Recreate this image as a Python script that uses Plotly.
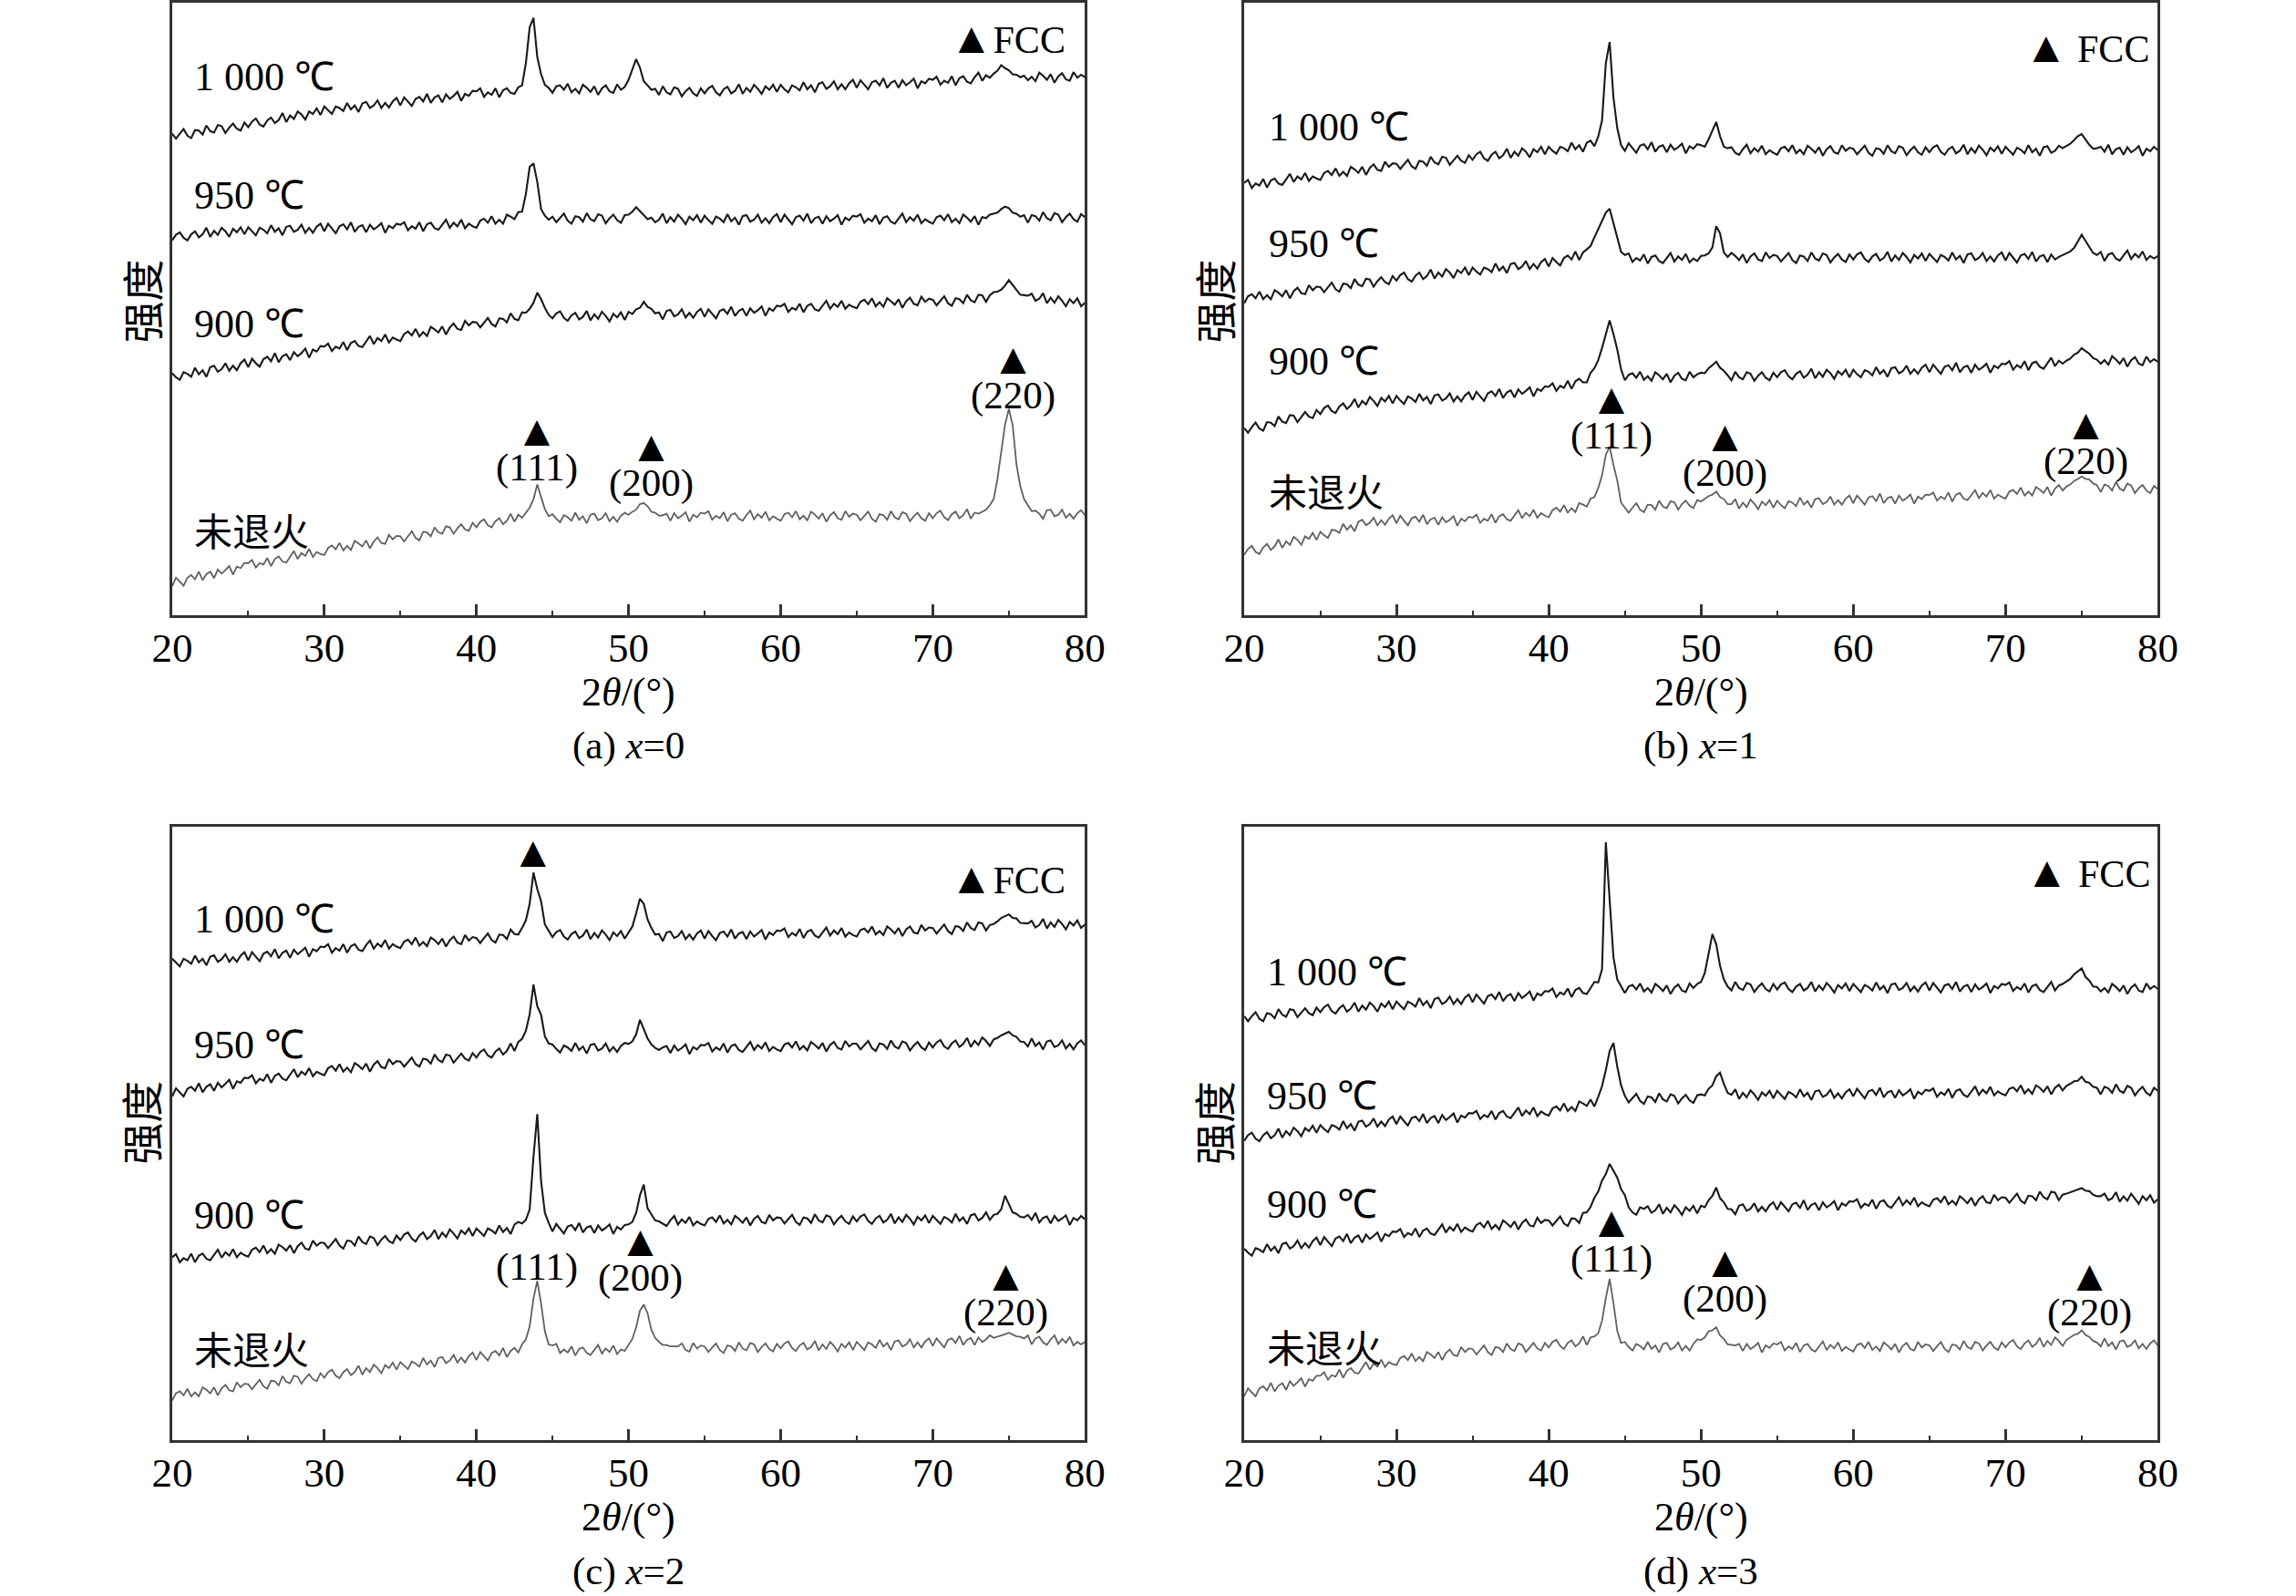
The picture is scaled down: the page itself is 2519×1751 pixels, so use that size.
import plotly.graph_objects as go

# ---------------- data ----------------
two_theta = [20 + 0.25 * i for i in range(241)]          # 2θ sampling grid (°)
tick_values = [20, 30, 40, 50, 60, 70, 80]
curve_names = ["1 000 ℃", "950 ℃", "900 ℃", "未退火"]
panel_captions = ["(a) <i>x</i>=0", "(b) <i>x</i>=1", "(c) <i>x</i>=2", "(d) <i>x</i>=3"]
hkl_labels = ["(111)", "(200)", "(220)"]

# intensities (a.u., curves vertically offset as drawn)
a_1000 = [956,946,956,965,952,947,963,962,954,972,961,958,973,971,957,968,976,966,962,978,
          969,980,986,974,970,982,988,977,983,997,979,992,985,1000,994,984,1000,995,1006,993,
          1010,1002,995,1010,1007,1001,1017,1004,1012,999,1016,1019,1007,1012,1022,1007,1017,1008,1020,1027,
          1012,1028,1019,1011,1025,1029,1020,1035,1017,1028,1032,1018,1034,1025,1031,1039,1021,1035,1031,1041,
          1040,1046,1029,1038,1033,1046,1028,1042,1046,1037,1035,1048,1052,1096,1167,1186,1108,1074,1053,1047,
          1037,1050,1052,1043,1055,1038,1045,1036,1053,1047,1039,1050,1033,1046,1052,1040,1037,1054,1043,1049,
          1063,1084,1104,1087,1060,1052,1043,1045,1033,1050,1038,1034,1048,1045,1030,1040,1047,1036,1031,1046,
          1036,1046,1051,1038,1032,1044,1049,1036,1041,1054,1035,1047,1039,1053,1045,1035,1050,1043,1053,1039,
          1053,1044,1038,1052,1048,1042,1058,1044,1052,1038,1055,1058,1045,1050,1060,1044,1054,1044,1056,1063,
          1047,1062,1053,1044,1058,1061,1052,1066,1047,1057,1061,1047,1062,1052,1058,1065,1046,1060,1056,1065,
          1063,1069,1053,1061,1057,1070,1052,1066,1070,1059,1056,1068,1077,1061,1072,1067,1075,1081,1092,1086,
          1082,1074,1073,1068,1071,1062,1069,1060,1077,1071,1063,1074,1057,1070,1076,1064,1061,1078,1067,1073,
          1068]
a_950 = [744,755,760,749,744,756,762,750,756,769,751,763,755,769,762,751,767,760,770,756,
         770,761,754,769,765,758,774,761,768,754,771,773,761,765,775,759,769,759,771,777,
         762,777,767,758,772,776,766,780,761,771,774,760,775,766,771,778,759,773,768,777,
         775,780,764,772,767,780,762,776,779,768,765,776,785,769,779,772,785,768,777,772,
         769,783,787,779,792,777,785,777,795,791,786,800,801,836,890,897,860,806,793,785,
         791,780,789,797,783,777,792,790,781,798,786,782,796,793,778,788,795,784,779,794,
         795,801,810,801,794,786,789,780,785,797,778,790,781,795,787,776,791,784,794,779,
         793,784,777,791,787,780,796,782,789,775,792,794,781,785,795,779,788,778,790,796,
         780,795,785,776,790,793,783,797,778,788,791,777,792,782,787,794,775,789,784,793,
         791,796,779,787,782,794,776,789,792,781,777,788,797,780,790,783,795,778,786,781,
         777,790,793,784,796,780,787,778,795,789,781,792,775,790,788,795,797,799,806,811,
         808,799,797,791,794,779,794,792,783,800,788,784,798,795,780,790,797,786,781,796,
         790]
a_900 = [480,472,467,482,479,473,491,478,486,473,492,495,483,488,500,485,495,486,500,507,
         492,509,500,493,508,513,504,520,502,514,518,506,522,514,520,529,511,527,523,534,
         533,539,524,533,529,542,526,540,544,534,532,544,554,538,550,544,557,541,551,547,
         544,558,563,555,568,553,562,554,572,567,561,573,557,571,579,568,566,584,575,582,
         581,571,581,590,578,573,589,588,581,599,588,585,601,600,608,620,640,627,610,596,
         589,599,603,590,584,595,600,587,592,604,585,597,588,602,594,583,598,591,601,586,
         602,598,607,610,622,612,608,599,601,587,604,606,593,597,607,591,600,590,602,608,
         592,607,598,589,604,607,598,612,594,604,608,594,609,600,605,613,594,609,604,614,
         613,618,602,610,606,618,601,614,618,607,604,615,624,608,618,612,624,608,616,612,
         609,622,626,617,629,613,621,612,629,623,616,627,610,623,630,618,615,632,622,628,
         626,615,625,633,619,614,629,627,619,636,625,621,636,635,622,635,641,642,646,654,
         665,656,645,636,635,634,638,624,628,639,619,630,620,633,624,613,627,619,629,613,
         620]
a_raw = [57,74,66,58,74,79,71,86,69,81,86,73,90,82,89,97,80,96,93,103,
         103,109,94,103,100,113,97,111,116,106,104,116,127,111,123,117,131,115,125,121,
         119,133,138,130,143,128,137,129,147,142,136,148,132,146,154,143,141,159,150,157,
         156,146,157,166,153,148,165,164,156,174,164,161,176,174,161,172,180,170,167,183,
         174,185,190,178,174,186,192,180,187,201,185,199,193,204,213,230,259,234,210,196,
         200,191,184,198,194,187,203,189,196,182,199,201,188,192,202,186,195,185,197,203,
         199,205,209,220,222,216,205,203,197,198,201,187,202,192,197,204,185,199,194,203,
         201,206,189,197,192,204,186,199,202,191,187,198,207,190,200,193,205,188,196,191,
         187,200,203,194,206,190,197,188,205,199,191,202,185,198,204,192,189,206,195,201,
         199,188,197,205,191,185,200,198,189,206,194,190,204,201,186,196,203,192,187,202,
         192,202,207,194,188,200,205,192,198,210,191,203,201,205,209,218,230,270,320,378,
         409,377,299,256,230,217,206,207,201,191,208,209,196,199,209,193,201,191,202,208,
         198]

b_1000 = [858,864,848,857,853,866,849,863,867,857,854,866,876,860,871,865,878,862,871,867,
          864,878,882,874,887,872,880,872,890,885,878,890,874,888,895,884,882,900,890,897,
          896,886,896,904,891,886,902,900,892,910,899,895,910,908,894,904,912,902,898,913,
          904,915,920,907,902,914,920,907,913,926,908,920,912,927,920,909,925,919,930,915,
          930,922,916,930,927,921,938,925,933,920,938,942,931,950,982,1096,1138,1028,967,933,
          922,937,927,918,932,935,925,939,920,930,933,919,934,924,929,936,917,931,926,935,
          933,930,945,961,979,951,930,927,929,918,914,925,934,917,927,920,932,915,923,918,
          914,927,930,921,933,917,924,915,932,926,918,929,912,925,931,919,916,933,922,928,
          926,915,924,932,918,912,927,925,916,933,921,917,931,928,913,923,930,919,914,929,
          919,929,933,920,914,925,930,917,922,934,915,927,918,932,924,913,928,921,931,916,
          930,921,914,928,924,917,933,919,926,912,929,931,918,922,932,927,931,936,943,951,
          955,944,934,926,927,930,920,934,915,925,928,914,929,919,924,931,912,926,921,930,
          923]
b_950 = [619,633,637,629,642,627,635,627,645,640,633,645,629,643,650,639,637,655,645,652,
         651,641,651,660,647,642,658,657,649,667,656,653,668,666,652,663,671,661,657,673,
         664,675,680,667,662,674,680,667,673,686,668,680,672,687,680,669,685,679,690,675,
         690,682,676,690,687,681,698,684,692,679,697,699,687,692,703,687,697,688,701,707,
         692,709,701,694,709,714,706,722,705,720,726,733,750,766,785,799,807,777,750,721,
         715,718,701,709,704,716,698,711,714,703,699,710,719,702,712,705,717,700,708,703,
         713,714,718,730,772,758,720,711,719,713,705,716,699,712,718,706,703,720,709,715,
         713,702,711,719,705,699,714,712,703,720,708,704,718,715,700,710,717,706,701,716,
         706,716,720,707,701,712,717,704,709,721,702,714,705,719,711,700,715,708,718,703,
         717,708,701,715,711,704,720,706,713,699,716,718,705,709,719,703,712,702,714,720,
         704,719,709,700,714,717,707,721,702,712,715,701,716,706,711,715,718,722,729,743,
         755,743,730,719,715,721,703,716,719,708,704,715,724,707,717,710,722,705,713,708,
         713]
b_900 = [371,362,373,382,370,366,383,382,375,394,384,381,397,396,383,394,403,394,391,407,
         399,411,416,405,401,414,420,409,416,429,412,425,418,433,425,415,431,424,435,420,
         435,426,419,434,430,423,439,426,433,419,436,438,426,430,440,424,434,424,436,442,
         427,443,434,425,440,444,435,449,431,442,446,432,448,439,445,452,434,449,445,454,
         453,460,445,455,451,465,449,464,469,462,462,481,490,506,530,559,585,558,527,488,
         466,477,480,471,483,467,474,465,482,476,468,479,462,475,481,469,466,483,472,478,
         481,480,490,496,503,491,485,476,466,483,472,468,482,479,465,475,482,471,466,481,
         472,482,486,474,468,479,484,471,477,489,470,482,473,487,480,469,484,477,487,472,
         487,478,472,486,483,476,492,479,486,473,490,492,480,484,495,479,488,479,491,497,
         482,497,487,479,493,496,486,501,482,492,495,481,497,487,492,499,481,495,490,499,
         498,504,487,496,491,504,486,500,503,493,489,501,511,494,505,499,505,509,517,521,
         530,524,519,510,507,499,506,497,514,507,499,510,493,506,512,499,496,513,502,508,
         503]
b_raw = [119,131,137,125,121,134,141,129,136,150,133,146,139,155,149,139,156,151,163,149,
         165,158,153,169,168,163,181,169,178,166,185,189,178,183,193,178,188,179,191,198,
         182,197,187,178,192,195,185,199,180,190,193,179,194,184,189,196,177,191,186,195,
         193,199,183,191,187,200,183,196,200,190,187,198,208,192,203,196,209,193,202,197,
         194,208,213,205,218,203,212,204,222,219,215,231,234,252,277,318,334,298,267,223,
         213,203,213,222,209,204,219,218,209,227,215,212,226,224,209,220,227,217,212,228,
         225,230,236,239,245,234,230,220,220,230,211,223,214,229,221,210,225,218,228,213,
         227,218,212,226,223,216,233,219,226,213,230,232,220,224,235,219,228,219,231,237,
         222,237,227,219,233,236,226,241,222,232,235,221,237,227,232,239,221,235,230,239,
         238,243,227,235,230,243,225,239,242,231,228,239,248,232,242,235,248,231,239,234,
         231,245,248,240,253,237,245,237,254,249,242,254,237,251,258,247,255,259,266,270,
         275,270,269,261,258,244,259,256,247,264,251,247,261,257,242,252,258,247,242,256,
         250]

c_1000 = [955,947,940,955,951,945,961,948,955,942,959,962,949,954,964,949,958,949,961,968,
          952,968,959,950,965,969,960,974,956,967,971,957,973,964,970,977,959,974,970,979,
          978,984,967,976,971,984,967,980,984,973,970,982,991,975,985,979,992,975,984,979,
          976,989,993,984,997,981,988,980,997,992,984,995,979,992,999,987,984,1002,991,998,
          996,986,996,1005,992,987,1003,1002,994,1013,1004,1003,1016,1031,1064,1126,1093,1069,1023,1010,
          998,1008,1012,999,993,1004,1009,996,1001,1013,994,1006,997,1011,1003,992,1007,1000,1010,995,
          1008,1019,1045,1074,1064,1033,1016,1003,1004,990,1007,1009,996,1000,1010,994,1003,993,1005,1011,
          995,1010,1000,992,1006,1009,999,1013,995,1005,1008,994,1009,999,1005,1012,993,1007,1002,1011,
          1010,1015,998,1006,1001,1014,996,1009,1012,1001,997,1008,1017,1001,1011,1004,1016,999,1007,1002,
          999,1012,1015,1007,1019,1003,1010,1002,1019,1013,1005,1016,1000,1013,1019,1007,1005,1022,1011,1017,
          1016,1005,1015,1023,1010,1004,1020,1018,1010,1027,1016,1012,1027,1025,1011,1022,1024,1029,1036,1040,
          1043,1036,1035,1026,1025,1025,1030,1017,1022,1034,1015,1027,1018,1032,1024,1013,1028,1021,1031,1016,
          1023]
c_950 = [682,698,690,682,697,701,693,708,690,701,706,693,709,700,707,715,697,712,709,719,
         718,724,708,717,713,726,709,723,727,717,714,726,736,720,731,725,738,722,731,727,
         724,738,742,733,746,731,739,730,748,743,736,747,731,745,752,740,738,756,746,752,
         751,741,751,759,746,741,757,755,747,765,754,750,765,763,749,759,767,757,753,768,
         759,770,775,763,759,771,777,765,772,787,772,790,796,812,845,904,861,844,801,787,
         785,776,769,783,779,772,788,774,781,767,784,786,773,777,787,771,780,770,782,788,
         786,791,805,834,816,797,785,778,774,779,782,768,783,773,778,785,766,780,775,784,
         783,788,771,779,774,787,769,782,785,774,770,781,790,774,784,777,789,772,780,775,
         772,785,788,779,791,775,782,773,790,784,777,788,771,784,790,778,775,792,781,787,
         786,775,784,792,778,772,787,785,776,793,781,777,791,788,773,783,790,779,774,789,
         779,789,794,781,776,787,793,780,786,798,780,792,784,799,792,782,795,798,803,806,
         810,803,800,791,790,781,797,782,789,775,791,793,780,783,793,777,786,775,787,793,
         783]
c_900 = [363,369,353,361,357,370,353,366,370,360,357,368,378,362,373,366,379,363,372,367,
         364,378,382,373,386,371,379,370,388,383,376,387,371,385,392,380,378,396,386,392,
         391,381,390,399,386,380,396,395,386,404,393,389,404,401,387,398,405,395,391,406,
         397,408,412,400,394,406,412,399,405,417,399,412,403,418,410,400,416,409,420,405,
         420,412,405,420,416,410,426,413,421,409,428,433,430,437,458,562,647,514,451,431,
         414,429,419,410,424,427,417,431,412,422,425,411,426,416,421,428,409,423,418,427,
         428,433,451,486,507,460,448,436,434,429,425,436,445,428,438,431,443,426,434,429,
         426,439,442,433,446,430,437,428,445,439,431,442,426,439,445,433,430,447,436,442,
         441,430,439,447,433,427,442,440,431,448,436,432,446,443,428,438,445,434,429,444,
         434,444,448,435,429,440,445,432,437,449,430,442,433,447,439,428,443,436,446,431,
         445,436,429,443,439,432,449,435,442,429,446,449,436,441,452,437,447,449,458,485,
         467,452,449,443,442,447,437,451,432,441,444,430,445,435,440,446,427,441,436,445,
         438]
c_raw = [79,93,97,89,102,87,95,87,105,100,93,105,89,103,110,99,97,115,105,112,
         111,101,111,120,107,102,118,117,109,127,116,113,128,126,112,123,131,121,117,133,
         124,135,140,128,123,135,141,129,135,148,130,143,135,150,143,133,149,143,154,140,
         155,147,141,156,152,146,163,150,158,145,163,165,153,158,169,154,164,154,167,174,
         159,175,166,158,173,177,168,183,165,177,183,174,190,200,226,281,316,271,216,190,
         188,191,173,180,174,186,168,181,184,173,169,180,189,172,182,175,188,171,180,177,
         190,201,224,257,269,252,219,203,195,189,189,186,186,186,192,179,176,193,182,188,
         186,175,184,192,179,173,188,186,177,194,182,178,193,190,175,185,192,181,176,191,
         182,192,196,183,177,188,193,180,185,197,178,190,181,195,187,176,191,184,194,179,
         195,186,179,194,190,183,199,186,193,179,196,198,186,190,200,184,194,184,196,202,
         187,202,193,184,199,202,193,207,189,199,203,189,204,195,200,208,203,205,208,210,
         213,209,206,205,202,208,190,202,205,194,189,200,208,191,201,193,205,188,195,190,
         195]

d_1000 = [841,831,841,849,836,831,847,845,837,855,844,840,855,853,839,849,857,847,843,858,
          849,859,864,851,846,857,863,850,856,868,850,862,854,868,861,850,866,859,870,855,
          870,862,855,870,866,860,877,863,871,857,875,878,865,870,880,865,875,865,878,884,
          869,884,875,866,881,884,875,889,871,881,885,871,887,877,883,890,872,886,882,891,
          890,896,879,888,884,896,879,893,897,887,885,898,909,908,934,1186,1062,958,914,900,
          887,900,903,894,906,890,897,888,905,899,891,902,885,898,904,892,889,906,897,905,
          909,927,969,1004,984,941,914,900,892,909,897,893,907,904,889,899,906,895,890,905,
          894,904,908,895,889,900,905,892,897,909,890,902,893,907,899,888,903,896,906,891,
          905,896,889,903,899,892,908,894,901,887,904,906,893,897,907,891,900,890,902,908,
          892,907,897,888,902,905,895,909,890,900,903,889,904,894,899,906,887,901,896,905,
          903,908,891,899,894,906,888,901,904,893,889,900,909,892,902,905,910,915,924,930,
          936,919,912,900,899,890,897,888,905,899,891,902,885,898,904,892,889,906,895,901,
          895]
d_950 = [594,605,610,598,593,605,611,599,605,618,600,613,605,620,613,603,619,613,624,610,
         625,617,611,625,622,616,633,619,627,614,632,634,622,627,638,622,632,623,636,642,
         627,642,633,624,639,642,633,647,629,639,643,629,645,635,641,648,630,644,640,649,
         648,653,637,645,641,653,636,649,653,642,639,650,660,643,654,647,660,643,652,647,
         644,658,662,654,668,653,661,653,672,668,663,676,662,681,702,734,772,788,741,704,
         683,670,679,687,673,667,682,680,671,688,676,672,686,683,668,678,685,674,669,684,
         686,684,697,704,722,729,707,689,685,696,677,689,680,694,686,675,690,683,693,678,
         693,684,677,691,687,680,696,682,689,675,692,694,681,685,695,679,688,678,690,696,
         682,697,687,678,692,695,685,699,680,690,693,679,694,684,689,696,677,691,686,695,
         693,698,681,690,685,697,679,693,696,685,681,692,702,685,695,688,701,684,692,687,
         684,697,700,692,704,688,696,687,704,699,691,702,686,699,705,694,703,707,712,713,
         721,711,709,701,699,686,701,698,689,706,693,689,703,699,684,694,701,689,684,699,
         693]
d_900 = [380,372,366,381,378,373,389,376,384,371,389,392,380,385,396,381,391,382,395,402,
         387,403,394,385,400,404,395,409,391,402,406,392,408,399,405,412,394,409,405,414,
         413,419,403,411,407,420,403,416,420,410,407,418,428,412,423,416,429,413,422,417,
         414,427,431,422,435,419,427,418,436,430,423,434,418,431,438,426,424,441,431,437,
         436,426,435,444,430,425,440,439,431,451,452,463,481,493,515,528,548,533,521,498,
         486,462,452,447,462,459,464,451,456,468,449,461,452,466,458,447,462,455,465,450,
         465,462,476,485,501,480,472,459,458,448,465,468,455,459,470,454,463,454,466,472,
         457,472,462,454,468,471,461,476,457,467,470,456,472,462,467,474,456,470,465,474,
         473,478,461,469,465,477,459,473,476,465,461,472,482,466,476,468,481,464,472,467,
         464,477,480,472,484,468,475,467,484,478,470,481,465,478,484,472,470,487,476,482,
         481,471,480,489,475,470,485,484,476,493,482,478,493,491,476,487,489,492,495,497,
         500,495,494,487,484,484,489,476,480,492,473,484,475,489,480,469,484,476,486,471,
         478]
d_raw = [87,103,95,87,103,107,99,114,97,108,113,100,117,108,115,123,106,121,118,128,
         128,135,120,129,126,140,124,138,143,134,132,144,155,140,152,146,160,145,155,151,
         149,163,167,159,172,157,165,157,175,170,163,175,159,173,180,169,167,185,175,182,
         181,170,180,188,175,169,185,183,175,192,181,177,192,189,175,185,193,182,178,193,
         184,195,199,187,181,193,198,186,192,206,189,204,206,212,237,282,320,272,217,193,
         195,185,178,191,187,180,195,181,188,174,191,193,180,184,194,178,187,178,191,200,
         199,204,216,218,224,208,201,190,189,188,191,177,191,181,186,193,174,188,183,192,
         190,195,178,186,181,193,175,188,191,180,176,187,196,179,189,182,194,177,185,180,
         176,189,192,183,195,179,186,177,194,188,180,191,174,187,193,181,178,195,184,190,
         188,177,186,195,181,175,190,188,180,197,185,181,195,192,178,188,195,184,179,194,
         184,194,199,186,181,192,198,185,191,203,185,197,189,204,197,187,199,204,209,211,
         218,209,205,197,194,186,202,187,194,180,196,198,185,189,198,182,191,181,192,198,
         188]

panel_series = [
    [a_1000, a_950, a_900, a_raw],
    [b_1000, b_950, b_900, b_raw],
    [c_1000, c_950, c_900, c_raw],
    [d_1000, d_950, d_900, d_raw],
]

bad = []
for p, group in enumerate(panel_series):
    for s, ser in enumerate(group):
        if len(ser) != len(two_theta):
            bad.append((p, s, len(ser)))
if bad:
    raise ValueError("length mismatch: %r" % bad)

# ---------------- layout ----------------
W, H = 2519, 1751
SERIF = "Liberation Serif, Times New Roman, serif"
CJK = "Noto Sans CJK SC"
AX = "#333333"

x_dom = [[169 / W, 1189 / W], [1367 / W, 2388 / W], [169 / W, 1189 / W], [1367 / W, 2388 / W]]
y_dom = [[1 - 674 / H, 1 - 2 / H], [1 - 674 / H, 1 - 2 / H],
         [1 - 1580 / H, 1 - 907 / H], [1 - 1580 / H, 1 - 907 / H]]
Y_MAX = 1216

fig = go.Figure()

line_colors = ["#1a1a1a", "#1a1a1a", "#1a1a1a", "#606060"]
line_widths = [2.1, 2.1, 2.1, 1.8]

for p, group in enumerate(panel_series):
    xa = "x" if p == 0 else "x%d" % (p + 1)
    ya = "y" if p == 0 else "y%d" % (p + 1)
    for s, ser in enumerate(group):
        fig.add_trace(go.Scatter(x=two_theta, y=ser, mode="lines", xaxis=xa, yaxis=ya,
                                 line=dict(color=line_colors[s], width=line_widths[s]),
                                 name=curve_names[s], showlegend=False, hoverinfo="skip"))
    suf = "" if p == 0 else str(p + 1)
    fig.layout["xaxis" + suf] = dict(
        domain=x_dom[p], anchor=ya, range=[20, 80], tickmode="array", tickvals=tick_values,
        ticks="inside", ticklen=12, tickwidth=2.5, tickcolor=AX,
        showline=True, mirror=True, linecolor=AX, linewidth=3,
        showgrid=False, zeroline=False,
        tickfont=dict(family=SERIF, size=45, color="black"),
        ticklabelstandoff=-6,
        minor=dict(tickvals=[25, 35, 45, 55, 65, 75], ticks="inside", ticklen=5,
                   tickwidth=2, tickcolor=AX, showgrid=False),
    )
    fig.layout["yaxis" + suf] = dict(
        domain=y_dom[p], anchor=xa, range=[0, Y_MAX], showticklabels=False, ticks="",
        showline=True, mirror=True, linecolor=AX, linewidth=3,
        showgrid=False, zeroline=False,
    )

ann = []

def add_text(text, x, y, xref, yref, size=44, family=SERIF, xanchor="center", yanchor="middle", angle=0):
    ann.append(dict(text=text, x=x, y=y, xref=xref, yref=yref, showarrow=False,
                    xanchor=xanchor, yanchor=yanchor, textangle=angle,
                    font=dict(family=family, size=size, color="black")))

# axis titles and captions
for p in range(4):
    cx = (x_dom[p][0] + x_dom[p][1]) / 2
    top = p < 2
    add_text("2<i>θ</i>/(°)", cx, 1 - (759 if top else 1664) / H, "paper", "paper", size=44)
    add_text(panel_captions[p], cx, 1 - (817 if top else 1724) / H, "paper", "paper", size=43)
    ylx = (133 if p % 2 == 0 else 1332) / W
    add_text("强度", ylx, 1 - (330 if top else 1232) / H, "paper", "paper", size=46, family=CJK, angle=-90)

# curve labels (x, y in data units)
curve_label_pos = [
    [(21.3, 1068), (21.3, 833), (21.3, 578), (21.3, 170)],
    [(21.5, 968), (21.5, 738), (21.5, 503), (21.5, 248)],
    [(21.3, 1033), (21.3, 783), (21.3, 445), (21.3, 183)],
    [(21.4, 928), (21.4, 683), (21.4, 468), (21.4, 188)],
]
# (x, y of label block, with triangle above?)
hkl_pos = [
    [(44.0, 332, True), (51.5, 300, True), (75.3, 475, True)],
    [(44.15, 394, True), (51.55, 320, True), (75.3, 345, True)],
    [(44.0, 344, False), (50.8, 361, True), (74.8, 293, True)],
    [(44.15, 399, True), (51.55, 320, True), (75.5, 293, True)],
]
fcc_pos = [(71.0, 1146, ""), (71.1, 1128, " "), (71.0, 1115, ""), (71.2, 1128, " ")]

TRI = '<span style="font-size:48px">▲</span>'

for p in range(4):
    xr = "x" if p == 0 else "x%d" % (p + 1)
    yr = "y" if p == 0 else "y%d" % (p + 1)
    for s in range(4):
        lx, ly = curve_label_pos[p][s]
        fam = CJK if s == 3 else SERIF
        add_text(curve_names[s], lx, ly, xr, yr, size=42 if s == 3 else 44, family=fam, xanchor="left")
    for k in range(3):
        hx, hy, tri = hkl_pos[p][k]
        if tri:
            add_text(TRI + '<br><span style="font-size:43px">' + hkl_labels[k] + '</span>',
                     hx, hy, xr, yr, size=29)
        else:
            add_text(hkl_labels[k], hx, hy, xr, yr, size=43)
    fx, fy, gap = fcc_pos[p]
    add_text(TRI + gap + "FCC", fx, fy, xr, yr, size=42, xanchor="left")
    if p == 2:
        add_text("▲", 43.76, 1167, xr, yr, size=48)

fig.update_layout(width=W, height=H, margin=dict(l=0, r=0, t=0, b=0),
                  paper_bgcolor="white", plot_bgcolor="white", annotations=ann)

fig.write_html("out.html", config={"displayModeBar": False},
               post_script="document.body.style.margin='0px';")
